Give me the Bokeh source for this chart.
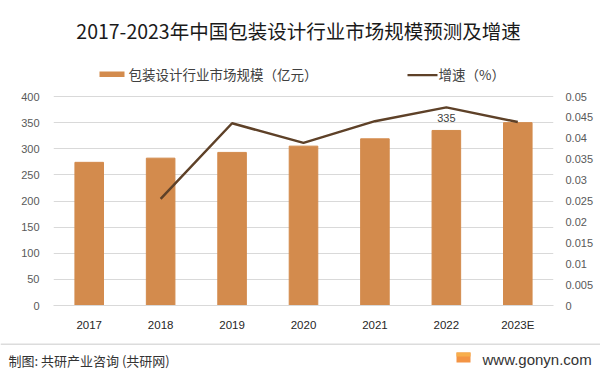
from bokeh.plotting import figure
from bokeh.models import Range1d, LinearAxis, FixedTicker, Label, BoxAnnotation
from bokeh.layouts import column
from bokeh.core.properties import value
from bokeh.embed import file_html
from bokeh.resources import INLINE

# ---- data ----
years = ["2017", "2018", "2019", "2020", "2021", "2022", "2023E"]
market_size = [274, 282, 293, 305, 319, 335, 350]
growth_years = ["2018", "2019", "2020", "2021", "2022", "2023E"]
growth = [0.0255, 0.0436, 0.0389, 0.0441, 0.0474, 0.0439]
left_ticks = [0, 50, 100, 150, 200, 250, 300, 350, 400]
right_ticks = [0, 0.005, 0.01, 0.015, 0.02, 0.025, 0.03, 0.035, 0.04, 0.045, 0.05]
right_tick_labels = ["0", "0.005", "0.01", "0.015", "0.02", "0.025", "0.03",
                     "0.035", "0.04", "0.045", "0.05"]
label_years = ["2022"]
label_values = [335]
label_texts = ["335"]

title_text = "2017-2023年中国包装设计行业市场规模预测及增速"
legend_bar_text = "包装设计行业市场规模（亿元）"
legend_line_text = "增速（%）"
footer_text = "制图: 共研产业咨询 (共研网)"
site_text = "www.gonyn.com"

BAR = "#D38B4D"
LINE = "#5E4128"
CJK = "Noto Sans CJK SC"
LAT = "Liberation Sans"

# ---- layout geometry (pixels) ----
W, H1, H2 = 600, 340, 35
FL, FR, FB = 53, 47, H1 - 305      # frame: x 53..553, y 0..305 (canvas)
Y_AXIS_MAX, G_AXIS_MAX, AXIS_PX = 400, 0.05, 209  # 400 <-> 209 px
frame_h = 305
y_top = Y_AXIS_MAX * frame_h / AXIS_PX
g_top = G_AXIS_MAX * frame_h / AXIS_PX

p = figure(x_range=years, y_range=Range1d(0, y_top), width=W, height=H1,
           output_backend="svg", toolbar_location=None,
           min_border_left=FL, min_border_right=FR,
           min_border_top=0, min_border_bottom=FB)
p.frame_align = False
p.outline_line_color = None
p.background_fill_color = "white"
p.border_fill_color = "white"

p.yaxis.ticker = FixedTicker(ticks=left_ticks)
p.yaxis.axis_line_color = None
p.yaxis.major_tick_line_color = None
p.yaxis.minor_tick_line_color = None
p.yaxis.major_label_text_font_size = "11px"
p.yaxis.major_label_text_color = "#595959"
p.yaxis.major_label_text_font = LAT
p.yaxis.major_label_standoff = 8

p.xaxis.axis_line_color = "#D9D9D9"
p.xaxis.major_tick_line_color = None
p.xaxis.major_label_text_font_size = "11.5px"
p.xaxis.major_label_text_color = "#262626"
p.xaxis.major_label_text_font = LAT
p.xaxis.major_label_standoff = 7

p.xgrid.grid_line_color = None
p.ygrid.grid_line_color = "#D9D9D9"

p.extra_y_ranges = {"g": Range1d(0, g_top)}
ra = LinearAxis(y_range_name="g", ticker=FixedTicker(ticks=right_ticks))
ra.major_label_overrides = {t: l for t, l in zip(right_ticks, right_tick_labels)}
ra.axis_line_color = None
ra.major_tick_line_color = None
ra.minor_tick_line_color = None
ra.major_label_text_font_size = "11px"
ra.major_label_text_color = "#595959"
ra.major_label_text_font = LAT
ra.major_label_standoff = 6
p.add_layout(ra, "right")

p.vbar(x=years, top=market_size, width=0.4, color=BAR)
p.line(x=growth_years, y=growth, y_range_name="g", line_color=LINE,
       line_width=2.5)
p.text(x=label_years, y=label_values, text=label_texts, y_offset=-8,
       text_align="center", text_baseline="bottom", text_font_size="11px",
       text_color="#404040", text_font=value(LAT))


def sx(img_x):
    return img_x - FL


def sy(img_y):
    return frame_h - img_y


def scr_box(l, r, t, b, color):
    return BoxAnnotation(left=l, right=r, top=t, bottom=b,
                         left_units="screen", right_units="screen",
                         top_units="screen", bottom_units="screen",
                         fill_color=color, fill_alpha=1, line_color=None)


p.add_layout(Label(x=sx(298), y=sy(29.5), x_units="screen", y_units="screen",
                   text=title_text, text_align="center", text_baseline="middle",
                   text_font=CJK, text_font_size="19.5px", text_color="#1A1A1A"))

p.add_layout(scr_box(sx(99), sx(124), sy(71), sy(76.5), BAR))
p.add_layout(Label(x=sx(128), y=sy(73.5), x_units="screen", y_units="screen",
                   text=legend_bar_text, text_align="left", text_baseline="middle",
                   text_font=CJK, text_font_size="13.5px", text_color="#404040"))
p.add_layout(scr_box(sx(407), sx(437), sy(73.5), sy(75.8), LINE))
p.add_layout(Label(x=sx(438), y=sy(73.5), x_units="screen", y_units="screen",
                   text=legend_line_text, text_align="left", text_baseline="middle",
                   text_font=CJK, text_font_size="13.5px", text_color="#404040"))

# ---- footer (no axes, frame covers the whole canvas) ----
f = figure(width=W, height=H2, x_range=Range1d(0, W), y_range=Range1d(0, H2),
           output_backend="svg", toolbar_location=None,
           x_axis_location=None, y_axis_location=None,
           min_border_left=0, min_border_right=0, min_border_top=0,
           min_border_bottom=0)
f.frame_align = False
f.grid.grid_line_color = None
f.outline_line_color = None
f.background_fill_color = "white"
f.border_fill_color = "white"


def fy(img_y):
    return H2 - (img_y - H1)


f.add_layout(scr_box(0, W, fy(343), fy(344.5), "#DCDCDC"))
f.add_layout(Label(x=8, y=fy(360), x_units="screen", y_units="screen",
                   text=footer_text, text_align="left", text_baseline="middle",
                   text_font=CJK, text_font_size="13px", text_color="#333333"))
f.add_layout(scr_box(456, 470, fy(352), fy(362), "#F39444"))
f.add_layout(scr_box(456, 470, fy(352), fy(356), "#F7AE4C"))
f.add_layout(Label(x=482, y=fy(358.5), x_units="screen", y_units="screen",
                   text=site_text, text_align="left", text_baseline="middle",
                   text_font=LAT, text_font_size="15px", text_color="#333333"))

layout = column(p, f, spacing=0)
open("out.html", "w").write(file_html(layout, INLINE))
